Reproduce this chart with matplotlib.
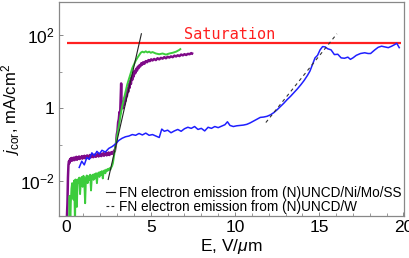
import numpy as np
import matplotlib
matplotlib.use("Agg")
import matplotlib.pyplot as plt
from matplotlib.lines import Line2D
from matplotlib.ticker import FixedLocator, FixedFormatter

plt.rcParams['font.family'] = ['Liberation Sans', 'DejaVu Sans']
plt.rcParams['mathtext.fontset'] = 'custom'
plt.rcParams['mathtext.rm'] = 'Liberation Sans'
plt.rcParams['mathtext.it'] = 'Liberation Sans:italic'
plt.rcParams['mathtext.bf'] = 'Liberation Sans:bold'

# ---- data (E in V/um, log10 of j in mA/cm^2) ----
purple_E = [0.00, 0.05, 0.08, 0.11, 0.14, 0.17, 0.20, 0.23, 0.26, 0.29, 0.32, 0.35, 0.38, 0.41,
            0.44, 0.47, 0.50, 0.54, 0.58, 0.62, 0.66, 0.70, 0.74, 0.78, 0.82, 0.86, 0.90, 0.94,
            0.98, 1.02, 1.06, 1.10, 1.14, 1.18, 1.22, 1.26, 1.30, 1.34, 1.38, 1.42, 1.46, 1.50,
            1.54, 1.58, 1.62, 1.66, 1.70, 1.74, 1.78, 1.82, 1.86, 1.90, 1.94, 1.98, 2.02, 2.06,
            2.10, 2.14, 2.18, 2.22, 2.26, 2.30, 2.34, 2.38, 2.42, 2.46, 2.50, 2.54, 2.58, 2.62,
            2.66, 2.70, 2.74, 2.78, 2.82, 2.86, 2.90, 2.94, 2.98, 3.02, 3.06, 3.10, 3.14, 3.18,
            3.21, 3.24, 3.27, 3.30, 3.34, 3.38, 3.42, 3.46, 3.50, 3.54, 3.58, 3.62, 3.66, 3.70,
            3.74, 3.78, 3.82, 3.86, 3.90, 3.94, 3.98, 4.03, 4.08, 4.13, 4.18, 4.23, 4.28, 4.33,
            4.38, 4.43, 4.48, 4.55, 4.62, 4.70, 4.78, 4.86, 4.94, 5.02, 5.10, 5.20, 5.30, 5.40,
            5.50, 5.60, 5.70, 5.80, 5.90, 6.00, 6.10, 6.20, 6.30, 6.40, 6.50, 6.60, 6.70, 6.80,
            6.90, 7.00, 7.10, 7.20, 7.30, 7.40, 7.45]
purple_logj = [-3.2, -2.6, -1.9, -1.55, -1.45, -1.5, -1.4, -1.44, -1.37, -1.42, -1.36, -1.43, -1.37, -1.4,
               -1.35, -1.42, -1.36, -1.39, -1.33, -1.41, -1.35, -1.37, -1.32, -1.39, -1.34, -1.36, -1.31, -1.38,
               -1.33, -1.35, -1.3, -1.37, -1.32, -1.34, -1.29, -1.36, -1.31, -1.33, -1.28, -1.35, -1.3, -1.32,
               -1.27, -1.34, -1.29, -1.31, -1.26, -1.33, -1.28, -1.3, -1.25, -1.32, -1.27, -1.29, -1.24, -1.31,
               -1.26, -1.28, -1.23, -1.3, -1.25, -1.27, -1.22, -1.29, -1.24, -1.26, -1.21, -1.28, -1.23, -1.25,
               -1.2, -1.25, -1.2, -1.22, -1.16, -1.18, -1.06, -0.95, -0.72, -0.62, -0.38, -0.3, -0.1, -0.15,
               0.3, 0.68, 0.02, 0.1, 0.0, 0.18, 0.1, 0.3, 0.2, 0.42, 0.33, 0.55, 0.45, 0.66,
               0.56, 0.76, 0.67, 0.86, 0.78, 0.94, 0.87, 1.02, 0.96, 1.08, 1.03, 1.14, 1.1, 1.18,
               1.15, 1.23, 1.19, 1.26, 1.22, 1.29, 1.26, 1.32, 1.29, 1.34, 1.31, 1.35, 1.32, 1.37,
               1.34, 1.38, 1.36, 1.4, 1.37, 1.41, 1.39, 1.42, 1.4, 1.44, 1.42, 1.45, 1.43, 1.47,
               1.45, 1.48, 1.46, 1.49, 1.48, 1.51, 1.5]

green_E = [0.14, 0.18, 0.22, 0.25, 0.29, 0.33, 0.37, 0.41, 0.45, 0.50, 0.53, 0.57, 0.61, 0.65,
           0.70, 0.75, 0.80, 0.85, 0.90, 0.95, 1.00, 1.05, 1.10, 1.15, 1.20, 1.25, 1.30, 1.35,
           1.40, 1.45, 1.50, 1.55, 1.60, 1.65, 1.70, 1.75, 1.80, 1.85, 1.90, 1.95, 2.00, 2.05,
           2.10, 2.15, 2.20, 2.25, 2.30, 2.35, 2.40, 2.45, 2.50, 2.55, 2.60, 2.65, 2.70, 2.75,
           2.80, 2.85, 2.90, 2.95, 3.00, 3.10, 3.20, 3.30, 3.40, 3.50, 3.60, 3.70, 3.80, 3.90,
           4.00, 4.10, 4.20, 4.30, 4.40, 4.50, 4.60, 4.70, 4.80, 4.90, 5.00, 5.10, 5.30, 5.50,
           5.70, 5.90, 6.10, 6.30, 6.50, 6.70, 6.75]
green_logj = [-3.2, -2.4, -3.2, -2.6, -2.2, -2.05, -2.1, -2.5, -1.98, -3.2, -1.95, -2.1, -2.7, -1.95,
              -2.05, -1.9, -2.35, -1.95, -1.88, -2.15, -1.85, -2.0, -2.6, -1.9, -1.84, -2.05, -1.86, -1.96,
              -1.82, -2.25, -1.86, -1.82, -1.96, -1.8, -1.92, -1.78, -2.05, -1.8, -1.76, -1.88, -1.74, -1.83,
              -1.72, -1.92, -1.73, -1.7, -1.78, -1.68, -1.72, -1.66, -1.7, -1.64, -1.68, -1.62, -1.58, -1.5,
              -1.35, -1.2, -1.05, -0.9, -0.75, -0.5, -0.2, 0.05, 0.25, 0.45, 0.65, 0.8, 0.95, 1.1,
              1.2, 1.3, 1.38, 1.45, 1.52, 1.55, 1.53, 1.56, 1.53, 1.55, 1.52, 1.54, 1.5, 1.48,
              1.5, 1.47, 1.5, 1.52, 1.55, 1.6, 1.62]

blue_E = [0.75, 0.9, 1.05, 1.2, 1.35, 1.5, 1.65, 1.8, 1.95, 2.1, 2.3, 2.5, 2.7, 2.9, 3.1, 3.3,
          3.5, 3.7, 3.9, 4.1, 4.3, 4.5, 4.7, 4.9, 5.1, 5.3, 5.5, 5.65, 5.8, 6.0, 6.2, 6.4,
          6.6, 6.8, 7.0, 7.2, 7.4, 7.6, 7.8, 8.0, 8.2, 8.4, 8.6, 8.8, 9.0, 9.2, 9.4, 9.55,
          9.7, 9.9, 10.1, 10.3, 10.5, 10.7, 10.9, 11.1, 11.3, 11.5, 11.7, 11.9, 12.1, 12.3,
          12.5, 12.7, 12.9, 13.1, 13.3, 13.5, 13.7, 13.9, 14.1, 14.3, 14.45, 14.6, 14.75, 14.9,
          15.05, 15.2, 15.35, 15.5, 15.7, 15.9, 16.1, 16.3, 16.5, 16.7, 16.85, 17.0, 17.2, 17.45,
          17.7, 17.9, 18.05, 18.3, 18.5, 18.7, 18.9, 19.1, 19.3, 19.5, 19.6, 19.75]
blue_logj = [-1.62, -1.45, -1.55, -1.35, -1.4, -1.22, -1.3, -1.18, -1.25, -1.15, -1.2, -1.1, -1.05, -0.98, -0.88, -0.82,
             -0.78, -0.76, -0.72, -0.74, -0.69, -0.73, -0.68, -0.74, -0.72, -0.76, -0.8, -0.57, -0.63, -0.6, -0.67, -0.62,
             -0.58, -0.63, -0.56, -0.52, -0.55, -0.5, -0.58, -0.55, -0.62, -0.52, -0.55, -0.5, -0.53, -0.49, -0.45, -0.37,
             -0.47, -0.5, -0.48, -0.47, -0.46, -0.44, -0.4, -0.35, -0.3, -0.25, -0.24, -0.22, -0.18, -0.12,
             -0.04, 0.05, 0.14, 0.24, 0.33, 0.43, 0.53, 0.64, 0.76, 0.9, 1.02, 1.2, 1.38, 1.45,
             1.6, 1.69, 1.68, 1.63, 1.6, 1.47, 1.48, 1.38, 1.37, 1.4, 1.34, 1.38, 1.45, 1.5,
             1.52, 1.5, 1.5, 1.6, 1.67, 1.7, 1.68, 1.66, 1.7, 1.75, 1.78, 1.66]

fn_solid_E = [2.47, 4.44]
fn_solid_logj = [-1.95, 2.04]
fn_dashed_E = [11.83, 16.05]
fn_dashed_logj = [-0.39, 2.04]

saturation_E = [0.0, 19.86]
saturation_j = [63, 63]

legend_labels = ["FN electron emission from (N)UNCD/Ni/Mo/SS",
                 "FN electron emission from (N)UNCD/W"]
x_ticks = [0, 5, 10, 15, 20]
y_ticks = [1e-2, 1, 1e2]
y_tick_labels = [r"$10^{-2}$", "1", r"$10^{2}$"]

# ---- figure ----
fig = plt.figure(figsize=(4.09, 2.58), dpi=100)
ax = fig.add_axes([0.1443, 0.1628, 0.8442, 0.8294])

ax.plot(saturation_E, saturation_j, color='#ff2020', lw=1.6, solid_capstyle='butt')
ax.plot(purple_E, 10.0 ** np.array(purple_logj), color='#7f0a88', lw=1.8)
ax.plot(green_E, 10.0 ** np.array(green_logj), color='#3ccc3c', lw=1.4)
ax.plot(blue_E, 10.0 ** np.array(blue_logj), color='#1f1fff', lw=1.1)
ax.plot(fn_solid_E, 10.0 ** np.array(fn_solid_logj), color='#222222', lw=0.8)
ax.plot(fn_dashed_E, 10.0 ** np.array(fn_dashed_logj), color='#333333', lw=0.8, dashes=(3, 3))

ax.text(7.0, 80, "Saturation", color='#ff2020', family='DejaVu Sans Mono', fontsize=11, va='baseline')

ax.set_yscale('log')
ax.set_xlim(-0.45, 20.05)
ax.set_ylim(10 ** -2.95, 10 ** 2.91)

ax.xaxis.set_major_locator(FixedLocator(x_ticks))
ax.xaxis.set_minor_locator(FixedLocator(np.arange(0, 21, 1)))
ax.yaxis.set_major_locator(FixedLocator(y_ticks))
ax.yaxis.set_major_formatter(FixedFormatter(y_tick_labels))
ax.yaxis.set_minor_locator(FixedLocator([1e-1, 1e1]))
ax.yaxis.set_minor_formatter(FixedFormatter([]))

for s in ax.spines.values():
    s.set_color('#888888')
    s.set_linewidth(0.9)
ax.tick_params(which='both', direction='in', color='#888888', labelsize=12.5)
ax.tick_params(which='major', length=3, width=0.7)
ax.tick_params(which='minor', length=2, width=0.6)
ax.tick_params(axis='x', pad=3)
ax.tick_params(axis='y', pad=3)

ax.set_xlabel(r"E, V/$\mu$m", fontsize=12.5, labelpad=1)
ax.set_ylabel(r"$j_{\rm cor}$, mA/cm$^2$", fontsize=12)
ax.yaxis.set_label_coords(-0.108, 0.5)

handles = [Line2D([], [], color='#222222', lw=0.8),
           Line2D([], [], color='#222222', lw=0.8, dashes=(2.5, 2.0))]
ax.legend(handles, legend_labels, loc='lower left', bbox_to_anchor=(0.135, 0.01),
          frameon=False, fontsize=9.8, handlelength=0.7, handletextpad=0.25,
          labelspacing=0.0, borderpad=0, borderaxespad=0)

fig.savefig("out.png", dpi=100)
